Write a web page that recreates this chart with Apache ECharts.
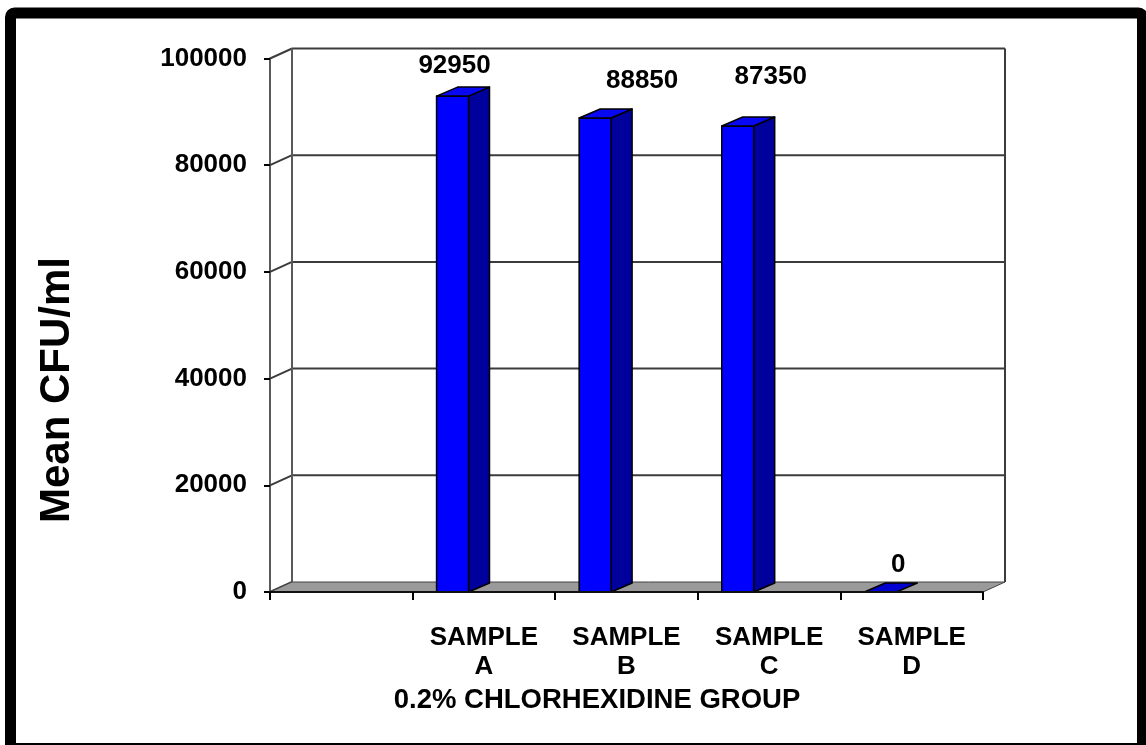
<!DOCTYPE html>
<html>
<head>
<meta charset="utf-8">
<script src="https://cdn.jsdelivr.net/npm/echarts@6/dist/echarts.min.js"></script>
<style>
  html, body { margin: 0; padding: 0; background: #fff; }
  #chart { width: 1146px; height: 745px; }
</style>
</head>
<body>
<div id="chart"></div>
<script>
// Mean CFU/ml per sample, 0.2% chlorhexidine group (first slot is an empty category)
const categories = ['', 'SAMPLE\nA', 'SAMPLE\nB', 'SAMPLE\nC', 'SAMPLE\nD'];
const cfuValues = [null, 92950, 88850, 87350, 0];
const yTicks = [0, 20000, 40000, 60000, 80000, 100000];
const yAxisTitle = 'Mean CFU/ml';
const xAxisTitle = '0.2% CHLORHEXIDINE GROUP';

const FONT = "'Liberation Sans', Arial, sans-serif";
// depth of the pseudo-3D box (back wall offset) and of each column
const WALL_DX = 22, WALL_DY = -10;
const BAR_DX = 21, BAR_DY = -9;
// label nudges (px) relative to the top-front centre of each column
const labelNudge = [[0, 0], [2, -30], [47, -37], [33, -49], [18, -27]];

const chart = echarts.init(document.getElementById('chart'), null, { renderer: 'canvas' });

const barData = [];
cfuValues.forEach((v, i) => { if (v !== null) barData.push([i, v]); });

function renderWall(params, api) {
  const cs = params.coordSys;
  const L = cs.x, R = cs.x + cs.width;
  const top = api.coord([0, yTicks[yTicks.length - 1]])[1];
  const bottom = api.coord([0, 0])[1];
  const children = [];
  const gridStyle = { stroke: '#3c3c3c', lineWidth: 2 };
  yTicks.forEach(t => {
    const y = api.coord([0, t])[1];
    if (t > 0) {
      children.push({ type: 'line', shape: { x1: L + WALL_DX, y1: y + WALL_DY, x2: R + WALL_DX, y2: y + WALL_DY }, style: gridStyle });
    }
    children.push({ type: 'line', shape: { x1: L, y1: y, x2: L + WALL_DX, y2: y + WALL_DY }, style: gridStyle });
  });
  children.push({ type: 'line', shape: { x1: L + WALL_DX, y1: top + WALL_DY, x2: L + WALL_DX, y2: bottom + WALL_DY }, style: { stroke: '#5a5a5a', lineWidth: 2 } });
  children.push({ type: 'line', shape: { x1: R + WALL_DX, y1: top + WALL_DY, x2: R + WALL_DX, y2: bottom + WALL_DY }, style: { stroke: '#3c3c3c', lineWidth: 2 } });
  // floor
  children.push({
    type: 'polygon',
    shape: { points: [[L, bottom], [R, bottom], [R + WALL_DX, bottom + WALL_DY], [L + WALL_DX, bottom + WALL_DY]] },
    style: { fill: '#9a9a9a', stroke: '#444', lineWidth: 1 }
  });
  return { type: 'group', children: children };
}

function renderBar(params, api) {
  const idx = api.value(0);
  const val = api.value(1);
  const base = api.coord([idx, 0]);
  const top = api.coord([idx, val]);
  const band = api.size([1, 0])[0];
  const x0 = base[0] - band / 2 + band * 0.168;
  const w = band * 0.224;
  const yb = base[1], yt = top[1];
  const edge = { stroke: '#000', lineWidth: 1.5, lineJoin: 'round' };
  const children = [];
  if (yb - yt > 0.5) {
    children.push({
      type: 'polygon',
      shape: { points: [[x0 + w, yt], [x0 + w + BAR_DX, yt + BAR_DY], [x0 + w + BAR_DX, yb + BAR_DY], [x0 + w, yb]] },
      style: Object.assign({ fill: '#00009c' }, edge)
    });
    children.push({
      type: 'rect',
      shape: { x: x0, y: yt, width: w, height: yb - yt },
      style: Object.assign({ fill: '#0000ff' }, edge)
    });
  }
  children.push({
    type: 'polygon',
    shape: { points: [[x0, yt], [x0 + BAR_DX, yt + BAR_DY], [x0 + w + BAR_DX, yt + BAR_DY], [x0 + w, yt]] },
    style: Object.assign({ fill: val > 0 ? '#0808f2' : '#0000d0' }, edge)
  });
  const nudge = labelNudge[idx] || [0, -30];
  children.push({
    type: 'text',
    x: x0 + w / 2 + nudge[0],
    y: yt + nudge[1],
    style: {
      text: String(val),
      fontFamily: FONT, fontWeight: 'bold', fontSize: 26,
      fill: '#000', align: 'center', verticalAlign: 'middle'
    }
  });
  return { type: 'group', children: children };
}

const option = {
  backgroundColor: '#ffffff',
  animation: false,
  grid: { left: 270, right: 163, top: 58.5, bottom: 153, containLabel: false },
  xAxis: {
    type: 'category',
    data: categories,
    boundaryGap: true,
    axisLine: { show: true, lineStyle: { color: '#111', width: 2 } },
    axisTick: { show: true, length: 8, lineStyle: { color: '#000', width: 2 } },
    axisLabel: {
      interval: 0, margin: 31,
      fontFamily: FONT, fontWeight: 'bold', fontSize: 26, lineHeight: 29, color: '#000'
    },
    splitLine: { show: false },
    z: 5
  },
  yAxis: {
    type: 'value',
    min: 0, max: 100000, interval: 20000,
    axisLine: { show: true, lineStyle: { color: '#5a5a5a', width: 2 } },
    axisTick: { show: true, length: 6, lineStyle: { color: '#000', width: 2 } },
    axisLabel: {
      margin: 23, fontFamily: FONT, fontWeight: 'bold', fontSize: 26, color: '#000',
      formatter: v => String(v)
    },
    splitLine: { show: false }
  },
  series: [
    { type: 'custom', name: 'wall', data: [[0, 0]], renderItem: renderWall, silent: true, clip: false, z: 1 },
    { type: 'custom', name: 'Mean CFU/ml', data: barData, renderItem: renderBar, clip: false, z: 3 }
  ],
  graphic: [
    {
      type: 'text',
      x: 57, y: 390, rotation: Math.PI / 2,
      style: {
        text: yAxisTitle, fontFamily: FONT, fontWeight: 'bold', fontSize: 42,
        fill: '#000', align: 'center', verticalAlign: 'middle'
      }
    },
    {
      type: 'text',
      x: 597, y: 700,
      style: {
        text: xAxisTitle, fontFamily: FONT, fontWeight: 'bold', fontSize: 27.5,
        fill: '#000', align: 'center', verticalAlign: 'middle'
      }
    },
    {
      type: 'rect',
      shape: { x: 10.5, y: 13, width: 1132, height: 735.5, r: 4 },
      style: { fill: 'none', stroke: '#000', lineWidth: 11 },
      silent: true
    }
  ]
};

chart.setOption(option);
</script>
</body>
</html>
